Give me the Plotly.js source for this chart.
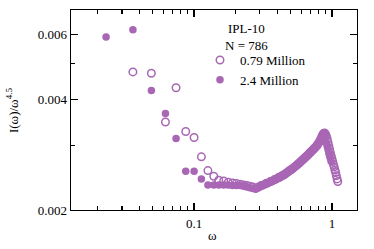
<!DOCTYPE html>
<html>
<head>
<meta charset="utf-8">
<script src="https://cdn.plot.ly/plotly-3.0.1.min.js"></script>
<style>html,body{margin:0;padding:0;background:#fff;}#chart{width:374px;height:249px;}</style>
</head>
<body>
<div id="chart"></div>
<script>
// frequency grid (omega)
const omegaFilled = [0.023,0.036,0.049,0.062,0.074,0.087,0.100,0.113,0.126,0.139,0.151,0.164,0.177,0.190,0.203,0.216,0.229,0.241,0.254,0.267,0.280,0.293,0.306,0.319,0.331,0.344,0.357,0.370,0.383,0.396,0.409,0.421,0.434,0.447,0.460,0.473,0.486,0.499,0.511,0.524,0.537,0.550,0.563,0.576,0.589,0.601,0.614,0.627,0.640,0.653,0.666,0.679,0.691,0.704,0.717,0.730,0.743,0.756,0.769,0.781,0.794,0.807,0.820,0.833,0.846,0.859,0.871,0.884,0.897,0.910,0.923,0.936,0.949,0.961,0.974,0.987];
const valuesFilled = [0.00591,0.00619,0.00423,0.00366,0.00313,0.00255,0.00255,0.00243,0.00234,0.00234,0.00234,0.00234,0.00234,0.00233,0.00233,0.00233,0.00232,0.00231,0.00230,0.00229,0.00228,0.00230,0.00232,0.00234,0.00235,0.00237,0.00238,0.00240,0.00241,0.00243,0.00244,0.00246,0.00247,0.00249,0.00251,0.00253,0.00255,0.00256,0.00258,0.00260,0.00262,0.00264,0.00266,0.00268,0.00270,0.00271,0.00273,0.00275,0.00277,0.00279,0.00281,0.00283,0.00285,0.00287,0.00289,0.00291,0.00293,0.00295,0.00297,0.00299,0.00302,0.00305,0.00308,0.00312,0.00316,0.00320,0.00322,0.00318,0.00312,0.00305,0.00298,0.00292,0.00286,0.00281,0.00276,0.00271];

const omegaOpen = [0.036,0.049,0.062,0.074,0.087,0.100,0.113,0.126,0.139,0.151,0.164,0.177,0.190,0.203,0.216,0.229,0.241,0.254,0.267,0.280,0.293,0.306,0.319,0.331,0.344,0.357,0.370,0.383,0.396,0.409,0.421,0.434,0.447,0.460,0.473,0.486,0.499,0.511,0.524,0.537,0.550,0.563,0.576,0.589,0.601,0.614,0.627,0.640,0.653,0.666,0.679,0.691,0.704,0.717,0.730,0.743,0.756,0.769,0.781,0.794,0.807,0.820,0.833,0.846,0.859,0.871,0.884,0.897,0.910,0.923,0.936,0.949,0.961,0.974,0.987,1.000,1.013,1.026,1.039,1.051,1.064,1.077,1.090,1.103];
const valuesOpen = [0.00475,0.00471,0.00347,0.00430,0.00327,0.00315,0.00279,0.00256,0.00247,0.00241,0.00240,0.00238,0.00237,0.00236,0.00235,0.00234,0.00233,0.00232,0.00231,0.00229,0.00231,0.00233,0.00234,0.00236,0.00237,0.00239,0.00240,0.00242,0.00243,0.00245,0.00246,0.00248,0.00249,0.00251,0.00253,0.00255,0.00257,0.00258,0.00260,0.00262,0.00264,0.00266,0.00268,0.00270,0.00272,0.00274,0.00276,0.00278,0.00280,0.00282,0.00284,0.00286,0.00288,0.00290,0.00292,0.00294,0.00296,0.00298,0.00300,0.00303,0.00306,0.00309,0.00313,0.00317,0.00321,0.00323,0.00324,0.00322,0.00318,0.00313,0.00306,0.00299,0.00293,0.00287,0.00281,0.00276,0.00271,0.00266,0.00262,0.00257,0.00253,0.00248,0.00243,0.00239];

const seriesNames = ['0.79 Million','2.4 Million'];
const annotationLines = ['IPL-10','N = 786'];
const xTitle = 'ω';
const yTitle = 'I(ω)/ω<sup>4.5</sup>';
const xTickVals = [0.1, 1];
const xTickText = ['0.1','1'];
const xMinorVals = [0.02,0.03,0.04,0.05,0.06,0.07,0.08,0.09,0.2,0.3,0.4,0.5,0.6,0.7,0.8,0.9];
const yTickVals = [0.002,0.004,0.006];
const yTickText = ['0.002','0.004','0.006'];
const yMinorVals = [0.003,0.005];

const purple = '#a866b4';
const font = {family:'"Liberation Serif", "Times New Roman", serif', size:13, color:'#000'};

const traces = [
  {x: omegaOpen, y: valuesOpen, name: seriesNames[0], type:'scatter', mode:'markers',
   marker:{symbol:'circle-open', size:7.5, color:purple, line:{width:1.5, color:purple}}},
  {x: omegaFilled, y: valuesFilled, name: seriesNames[1], type:'scatter', mode:'markers',
   marker:{symbol:'circle', size:7.5, color:purple}}
];

const axisCommon = {
  type:'log', showgrid:false, zeroline:false, showline:true, linecolor:'#000', linewidth:1.3,
  mirror:'ticks', ticks:'inside', ticklen:7, tickwidth:1.3, tickcolor:'#000', tickmode:'array',
  tickfont: font, automargin:false
};

const layout = {
  width:374, height:249,
  margin:{l:71, r:17, t:10, b:39},
  paper_bgcolor:'#fff', plot_bgcolor:'#fff',
  font: font,
  showlegend:true,
  legend:{x:0.451, y:0.825, xanchor:'left', yanchor:'top', bgcolor:'rgba(0,0,0,0)', font:font, tracegroupgap:0, itemwidth:30},
  xaxis: Object.assign({}, axisCommon, {
    range:[Math.log10(0.0128), Math.log10(1.52)],
    tickvals:xTickVals, ticktext:xTickText, ticklabelstandoff:1,
    minor:{tickmode:'array', tickvals:xMinorVals, ticks:'inside', ticklen:4, tickwidth:1.1, tickcolor:'#000'}
  }),
  yaxis: Object.assign({}, axisCommon, {
    range:[Math.log10(0.002), Math.log10(0.0070)],
    tickvals:yTickVals, ticktext:yTickText,
    minor:{tickmode:'array', tickvals:yMinorVals, ticks:'inside', ticklen:4, tickwidth:1.1, tickcolor:'#000'}
  }),
  annotations:[
    {xref:'paper', yref:'paper', x:0.615, y:0.905, text:annotationLines[0], showarrow:false, font:font, xanchor:'center', yanchor:'middle'},
    {xref:'paper', yref:'paper', x:0.615, y:0.825, text:annotationLines[1], showarrow:false, font:font, xanchor:'center', yanchor:'middle'},
    {xref:'paper', yref:'paper', x:0.4965, y:-0.125, text:xTitle, showarrow:false, font:font, xanchor:'center', yanchor:'middle'},
    {xref:'paper', yref:'paper', x:-0.206, y:0.5, text:yTitle, textangle:-90, showarrow:false, font:font, xanchor:'center', yanchor:'middle'}
  ]
};

Plotly.newPlot('chart', traces, layout, {staticPlot:true, displayModeBar:false});
</script>
</body>
</html>
